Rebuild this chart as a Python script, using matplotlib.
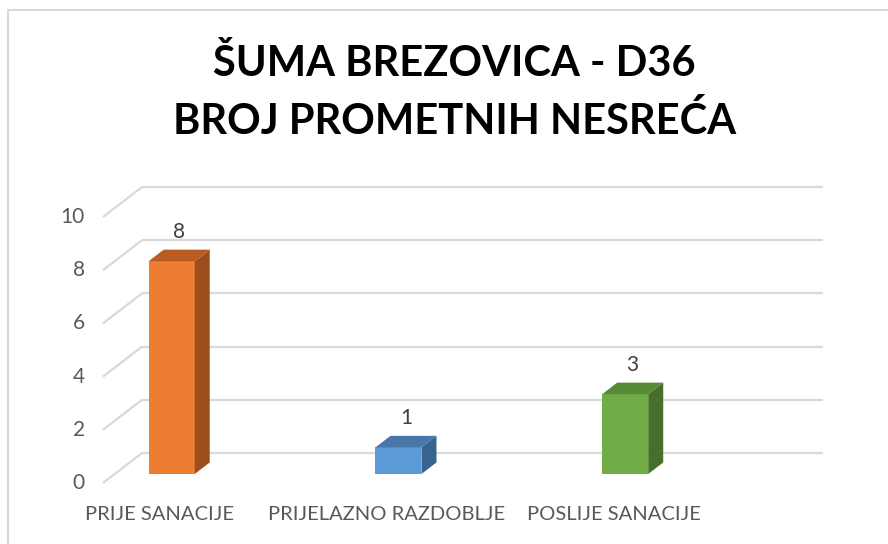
import matplotlib.pyplot as plt
from matplotlib.patches import Polygon
from matplotlib.lines import Line2D

plt.rcParams['font.family'] = ['Lato', 'DejaVu Sans']

categories = ['PRIJE SANACIJE', 'PRIJELAZNO RAZDOBLJE', 'POSLIJE SANACIJE']
values = [8, 1, 3]
yticks = [0, 2, 4, 6, 8, 10]

front_cols = ['#ED7D31', '#5B9BD5', '#70AD47']
side_cols = ['#9C4E1C', '#37648E', '#466F2A']
top_cols = ['#B85C22', '#4677A8', '#558A36']

# fake 3d: full depth offset in data units
DX, DY = 0.172, 1.128
d0, d1 = 0.3, 0.685   # bar front / back depth
w = 0.203
grid_x0, grid_x1 = -0.2514, 2.752

fig = plt.figure(figsize=(8.88, 5.44), dpi=100)
ax = fig.add_axes([0, 0, 1, 1])
ax.set_xlim(-0.7056, 3.2106)
ax.set_ylim(-2.293, 18.158)
ax.axis('off')

# chart border
fig.add_artist(Line2D([8/888, 8/888], [0, 1-10/544], color='#D9D9D9', lw=1.5))
fig.add_artist(Line2D([8/888, 1], [1-10/544, 1-10/544], color='#D9D9D9', lw=1.5))

grid_kw = dict(color='#D9D9D9', lw=1.6, zorder=1, solid_capstyle='butt')
for t in yticks:
    ax.plot([grid_x0, grid_x0 + DX], [t, t + DY], **grid_kw)
    ax.plot([grid_x0 + DX, grid_x1 + DX], [t + DY, t + DY], **grid_kw)
    ax.text(grid_x0 - 0.08, t, str(t), ha='right', va='center',
            fontsize=15, color='#595959')

for i, (c, v) in enumerate(zip(categories, values)):
    xl = i - w / 2 + d0 * DX
    xr = i + w / 2 + d0 * DX
    yb = d0 * DY
    yt = v + d0 * DY
    ox, oy = (d1 - d0) * DX, (d1 - d0) * DY
    ax.add_patch(Polygon([(xl, yb), (xr, yb), (xr, yt), (xl, yt)],
                         closed=True, fc=front_cols[i], ec='none', zorder=3))
    ax.add_patch(Polygon([(xr, yb), (xr + ox, yb + oy), (xr + ox, yt + oy), (xr, yt)],
                         closed=True, fc=side_cols[i], ec='none', zorder=3))
    ax.add_patch(Polygon([(xl, yt), (xr, yt), (xr + ox, yt + oy), (xl + ox, yt + oy)],
                         closed=True, fc=top_cols[i], ec='none', zorder=3))
    ax.text((xl + xr + ox) / 2, yt + oy + 0.3, str(v), ha='center', va='bottom',
            fontsize=15, color='#404040')
    ax.text(i, -1.2, c, ha='center', va='center', fontsize=14.5, color='#595959')

fig.text(0.512, 1 - 63/544, 'ŠUMA BREZOVICA - D36', ha='center', va='center',
         fontsize=30, fontweight='bold', color='black')
fig.text(0.512, 1 - 121/544, 'BROJ PROMETNIH NESREĆA', ha='center', va='center',
         fontsize=30, fontweight='bold', color='black')

fig.savefig('out.png', dpi=100)
